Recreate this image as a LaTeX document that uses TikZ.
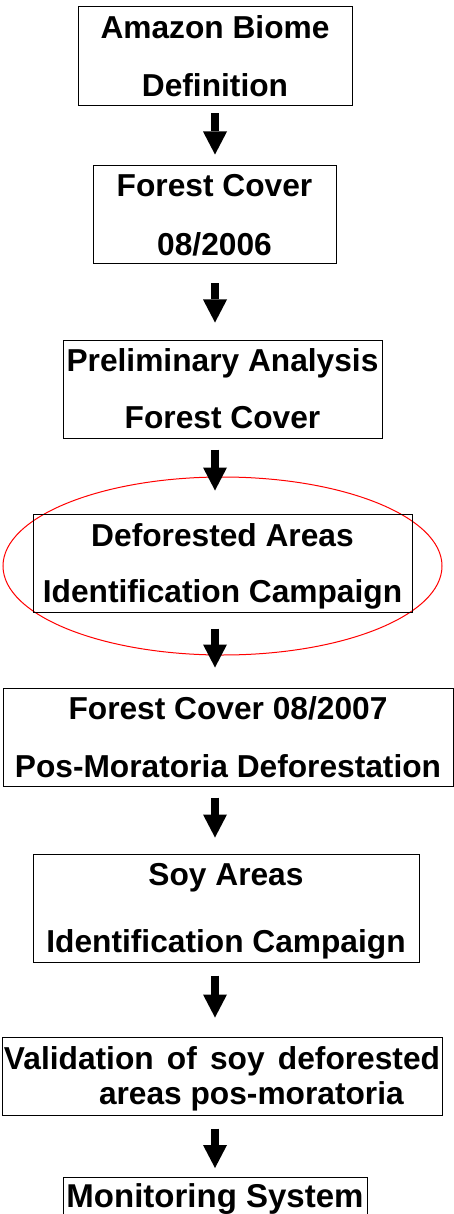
\documentclass[tikz,border=0pt]{standalone}
\usepackage{fontspec}
\setmainfont{Liberation Sans}
\usetikzlibrary{arrows.meta}
\begin{document}
\begin{tikzpicture}[x=1pt,y=-1pt,
  box/.style={draw=black, line width=1pt, rectangle, inner sep=0pt, align=center, text depth=0pt, font=\fontsize{31.7}{58}\selectfont\bfseries},
  arr/.style={line width=8pt, -{Triangle[width=24pt,length=23pt,line width=0pt]}},
  ring/.style={draw=red, line width=1pt}
]
\clip (0,0) rectangle (454,1214);
\coordinate (axis) at (215,0);
\coordinate (ringc) at (222.5,566);
\draw[ring] (ringc) ellipse [x radius=219.5pt, y radius=89pt];
\node[box, minimum width=274pt, minimum height=99pt] (b1) at (215,56.5) {Amazon Biome\\Definition};
\node[box, minimum width=243pt, minimum height=98pt, font=\fontsize{31.7}{59}\selectfont\bfseries] (b2) at (214.5,215) {Forest Cover\\08/2006};
\node[box, minimum width=319pt, minimum height=98pt, font=\fontsize{31.7}{57}\selectfont\bfseries] (b3) at (222.5,389) {Preliminary Analysis\\Forest Cover};
\node[box, minimum width=379pt, minimum height=98pt, font=\fontsize{31.7}{56}\selectfont\bfseries] (b4) at (222.5,563) {Deforested Areas\\Identification Campaign};
\node[box, minimum width=450pt, minimum height=98pt] (b5) at (228,737) {Forest Cover 08/2007\\Pos-Moratoria Deforestation};
\node[box, minimum width=386pt, minimum height=108pt, font=\fontsize{31.7}{67}\selectfont\bfseries] (b6) at (226,908) {Soy Areas\\Identification Campaign};
\node[box, minimum width=440pt, minimum height=78pt, align=left, font=\fontsize{31.7}{35}\selectfont\bfseries] (b7) at (222,1076) {\makebox[436pt][s]{Validation of soy deforested}\\\hspace*{95pt}areas pos-moratoria};
\node[box, minimum width=304pt, text height=24pt, text depth=50pt, inner ysep=6pt, anchor=north, font=\fontsize{33}{40}\selectfont\bfseries] (b8) at (215,1177) {Monitoring System};
\draw[arr, shorten <=7pt, shorten >=11pt] (b1.south -| axis) -- (b2.north -| axis);
\draw[arr, shorten <=19pt, shorten >=17pt] (b2.south -| axis) -- (b3.north -| axis);
\draw[arr, shorten <=11pt, shorten >=23pt] (b3.south -| axis) -- (b4.north -| axis);
\draw[arr, shorten <=16pt, shorten >=20pt] (b4.south -| axis) -- (b5.north -| axis);
\draw[arr, shorten <=11pt, shorten >=16pt] (b5.south -| axis) -- (b6.north -| axis);
\draw[arr, shorten <=13pt, shorten >=19pt] (b6.south -| axis) -- (b7.north -| axis);
\draw[arr, shorten <=13pt, shorten >=9pt] (b7.south -| axis) -- (b8.north -| axis);
\end{tikzpicture}
\end{document}
